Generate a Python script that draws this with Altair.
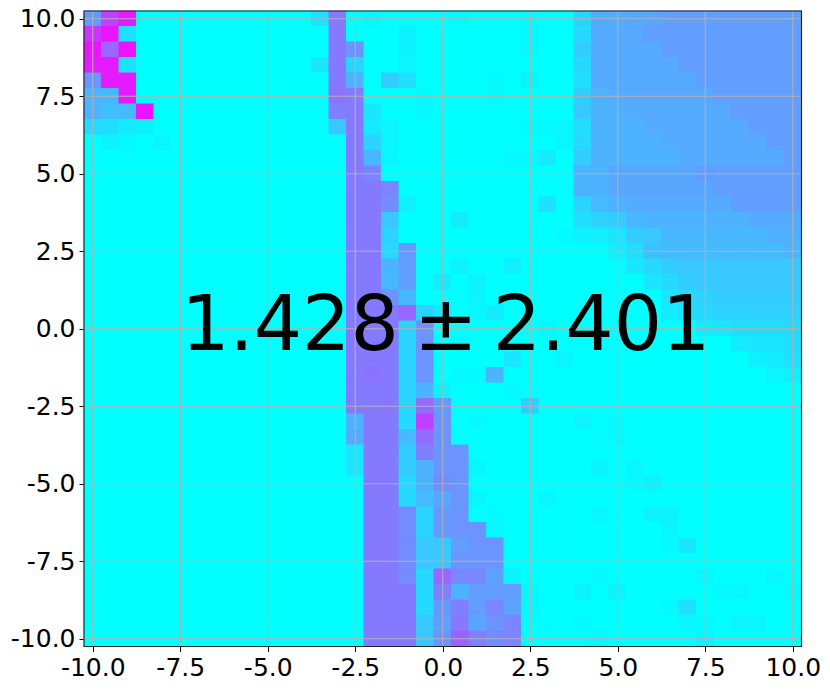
import altair as alt
import pandas as pd

tick_values = [-10.0, -7.5, -5.0, -2.5, 0.0, 2.5, 5.0, 7.5, 10.0]
x_centers = [-10.0 + 0.5 * i for i in range(41)]
y_centers = [10.0 - 0.5 * i for i in range(41)]
annotation = "1.428\u2009\u00b1\u20092.401"

# Non-zero cell values, row by row from the top (y=10) down: {column: value}
row00 = {0:.40,1:.75,2:.90,13:.12,14:.52,16:.03,21:.02,25:.02,28:.17,29:.33,30:.33,31:.34,32:.35,33:.38,34:.38,35:.38,36:.38,37:.38,38:.38,39:.38,40:.38}
row01 = {0:.80,1:.92,2:.12,14:.52,18:.05,25:.03,28:.15,29:.33,30:.33,31:.34,32:.38,33:.38,34:.38,35:.38,36:.38,37:.38,38:.38,39:.38,40:.38}
row02 = {0:.92,1:.60,2:.92,14:.52,15:.42,18:.05,25:.03,28:.20,29:.33,30:.33,31:.33,32:.33,33:.38,34:.38,35:.38,36:.38,37:.38,38:.38,39:.38,40:.38}
row03 = {0:.90,1:.90,2:.12,13:.10,14:.52,15:.17,18:.04,28:.15,29:.33,30:.33,31:.33,32:.33,33:.33,34:.38,35:.38,36:.38,37:.38,38:.38,39:.38,40:.38}
row04 = {0:.42,1:.90,2:.90,14:.52,15:.30,17:.20,18:.12,23:.02,25:.05,28:.13,29:.33,30:.33,31:.33,32:.33,33:.33,34:.33,35:.38,36:.38,37:.38,38:.38,39:.38,40:.38}
row05 = {0:.30,1:.28,2:.90,14:.55,15:.52,19:.02,23:.02,28:.20,29:.30,30:.33,31:.34,32:.34,33:.34,34:.34,35:.34,36:.38,37:.38,38:.38,39:.38,40:.38}
row06 = {0:.30,1:.25,2:.27,3:.92,14:.50,15:.52,16:.10,19:.03,28:.22,29:.30,30:.30,31:.33,32:.33,33:.33,34:.33,35:.33,36:.33,37:.38,38:.38,39:.38,40:.38}
row07 = {0:.15,1:.13,2:.08,3:.06,14:.22,15:.52,16:.08,17:.04,25:.02,26:.02,27:.03,28:.13,29:.30,30:.30,31:.30,32:.33,33:.33,34:.33,35:.33,36:.33,37:.33,38:.38,39:.38,40:.38}
row08 = {1:.05,2:.02,4:.03,15:.52,16:.17,17:.04,27:.03,28:.15,29:.30,30:.30,31:.30,32:.30,33:.33,34:.33,35:.33,36:.33,37:.33,38:.33,39:.38,40:.38}
row09 = {2:.01,15:.52,16:.28,17:.03,24:.02,25:.02,26:.08,28:.20,29:.30,30:.30,31:.30,32:.30,33:.30,34:.33,35:.33,36:.33,37:.33,38:.33,39:.33,40:.38}
row10 = {15:.52,16:.48,28:.30,29:.30,30:.35,31:.35,32:.35,33:.35,34:.35,35:.39,36:.38,37:.38,38:.38,39:.38,40:.38}
row11 = {15:.52,16:.52,17:.48,28:.30,29:.30,30:.34,31:.35,32:.35,33:.35,34:.35,35:.35,36:.38,37:.38,38:.38,39:.38,40:.38}
row12 = {15:.52,16:.52,17:.45,18:.06,26:.12,28:.17,29:.27,30:.30,31:.33,32:.33,33:.33,34:.33,35:.33,36:.33,37:.38,38:.38,39:.38,40:.38}
row13 = {15:.52,16:.52,17:.22,21:.08,28:.13,29:.18,30:.20,31:.28,32:.30,33:.30,34:.30,35:.30,36:.30,37:.30,38:.33,39:.33,40:.33}
row14 = {15:.52,16:.52,17:.17,27:.02,28:.05,29:.07,30:.10,31:.20,32:.22,33:.28,34:.28,35:.28,36:.28,37:.28,38:.28,39:.31,40:.31}
row15 = {15:.52,16:.52,17:.15,18:.40,30:.07,31:.13,32:.25,33:.27,34:.27,35:.27,36:.27,37:.27,38:.27,39:.27,40:.30}
row16 = {15:.52,16:.52,17:.30,18:.38,21:.05,24:.07,31:.10,32:.15,33:.20,34:.22,35:.22,36:.22,37:.22,38:.22,39:.22,40:.22}
row17 = {15:.52,16:.52,17:.28,18:.38,20:.08,22:.05,32:.10,33:.15,34:.20,35:.22,36:.22,37:.22,38:.22,39:.22,40:.22}
row18 = {15:.52,16:.52,17:.42,18:.28,22:.04,33:.10,34:.15,35:.18,36:.20,37:.20,38:.20,39:.20,40:.20}
row19 = {15:.52,16:.52,17:.52,18:.60,19:.17,20:.10,22:.03,23:.08,33:.08,34:.13,35:.15,36:.17,37:.17,38:.18,39:.18,40:.18}
row20 = {15:.52,16:.52,17:.52,18:.17,19:.42,26:.03,35:.08,36:.10,37:.13,38:.13,39:.13,40:.15}
row21 = {15:.52,16:.52,17:.52,18:.17,19:.42,21:.03,37:.08,38:.10,39:.10,40:.13}
row22 = {15:.52,16:.52,17:.52,18:.17,19:.42,24:.10,27:.03,38:.06,39:.08,40:.12}
row23 = {15:.52,16:.55,17:.52,18:.17,19:.42,21:.02,22:.02,23:.30,39:.04,40:.07}
row24 = {15:.52,16:.52,17:.52,18:.17,19:.30,20:.05,24:.02}
row25 = {15:.52,16:.52,17:.54,18:.17,19:.58,20:.40,25:.20}
row26 = {15:.30,16:.52,17:.52,18:.15,19:.75,20:.42,22:.02,28:.04,30:.02}
row27 = {15:.33,16:.52,17:.52,18:.27,19:.58,20:.42,29:.015,30:.02}
row28 = {15:.10,16:.52,17:.52,18:.20,19:.50,20:.42,21:.42}
row29 = {15:.10,16:.52,17:.52,18:.20,19:.30,20:.42,21:.42,22:.03,29:.05,31:.03}
row30 = {16:.52,17:.52,18:.15,19:.30,20:.45,21:.42,31:.02,32:.05}
row31 = {16:.52,17:.52,18:.15,19:.27,20:.35,21:.42,22:.03,26:.03}
row32 = {16:.52,17:.52,18:.45,19:.17,20:.40,21:.42,23:.02,27:.01,29:.03,32:.05,33:.05}
row33 = {16:.52,17:.52,18:.45,19:.17,20:.40,21:.42,22:.42,23:.03,33:.03}
row34 = {16:.52,17:.52,18:.45,19:.22,20:.22,21:.38,22:.42,23:.42,27:.01,33:.02,34:.09}
row35 = {16:.52,17:.52,18:.45,19:.22,20:.22,21:.42,22:.42,23:.42}
row36 = {16:.52,17:.52,18:.45,19:.15,20:.60,21:.47,22:.47,23:.36,24:.05,29:.02,35:.03,39:.03}
row37 = {16:.52,17:.52,18:.52,19:.15,20:.50,21:.30,22:.38,23:.38,24:.38,25:.03,28:.05,30:.04,36:.02,37:.03,40:.02}
row38 = {16:.52,17:.52,18:.52,19:.15,20:.40,21:.50,22:.38,23:.47,24:.36,25:.03,33:.02,34:.12}
row39 = {16:.52,17:.52,18:.52,19:.22,20:.38,21:.52,22:.35,23:.42,24:.48,25:.01,26:.01,28:.02,34:.04,35:.02,37:.04,38:.04}
row40 = {16:.52,17:.52,18:.52,19:.22,20:.42,21:.62,22:.50,23:.45,24:.48,29:.03,35:.05}

rows = [row00,row01,row02,row03,row04,row05,row06,row07,row08,row09,row10,row11,row12,row13,row14,row15,row16,row17,row18,row19,
        row20,row21,row22,row23,row24,row25,row26,row27,row28,row29,row30,row31,row32,row33,row34,row35,row36,row37,row38,row39,row40]

half = 0.25
cells = pd.DataFrame([
    {"x0": xc - half, "x1": xc + half, "y0": yc - half, "y1": yc + half, "v": rows[r].get(c, 0.0)}
    for r, yc in enumerate(y_centers) for c, xc in enumerate(x_centers)
])

W, H = 717.5, 635.5
FONT = "DejaVu Sans"
x_scale = alt.Scale(domain=[-10.25, 10.25], nice=False, zero=False)
y_scale = alt.Scale(domain=[-10.25, 10.25], nice=False, zero=False)
color_scale = alt.Scale(domain=[0, 1], range=["#00ffff", "#ff00ff"], interpolate="rgb")


def axis(orient):
    return alt.Axis(
        orient=orient, values=tick_values, title=None, grid=False,
        labelExpr="replace(format(datum.value,'.1f'),'\u2212','-')",
        labelFont=FONT, labelFontSize=25, labelColor="black", labelPadding=4,
        tickColor="black", tickSize=5, tickWidth=1, domain=False,
        labelOverlap=False, labelFlush=False,
    )


heat = alt.Chart(cells).mark_rect(strokeWidth=1).encode(
    x=alt.X("x0:Q", scale=x_scale, axis=axis("bottom")),
    x2="x1:Q",
    y=alt.Y("y0:Q", scale=y_scale, axis=axis("left")),
    y2="y1:Q",
    color=alt.Color("v:Q", scale=color_scale, legend=None),
    stroke=alt.Stroke("v:Q", scale=color_scale, legend=None),
)

ticks_df = pd.DataFrame({"t": tick_values})
grid_v = alt.Chart(ticks_df).mark_rule(color="#b0b0b0", strokeWidth=1.1).encode(
    x=alt.X("t:Q", scale=x_scale))
grid_h = alt.Chart(ticks_df).mark_rule(color="#b0b0b0", strokeWidth=1.1).encode(
    y=alt.Y("t:Q", scale=y_scale))

label = alt.Chart(pd.DataFrame({"x": [0.0], "y": [0.0], "s": [annotation]})).mark_text(
    font=FONT, fontSize=76, color="black", align="center", baseline="middle", dx=3, dy=-1.5
).encode(
    x=alt.X("x:Q", scale=x_scale), y=alt.Y("y:Q", scale=y_scale), text="s:N")

frame = alt.Chart(pd.DataFrame({"a": [0]})).mark_rect(
    fillOpacity=0, stroke="#222222", strokeWidth=1.1
).encode(x=alt.value(0), x2=alt.value(W), y=alt.value(0), y2=alt.value(H))

chart = alt.layer(heat, grid_v, grid_h, label, frame).resolve_scale(
    color="shared", stroke="shared"
).properties(
    width=W, height=H,
    autosize=alt.AutoSizeParams(type="none"),
    padding={"left": 76, "top": 3, "right": 20, "bottom": 35},
).configure_view(stroke=None)

chart.save("out.html", embed_options={"renderer": "svg", "actions": False})
